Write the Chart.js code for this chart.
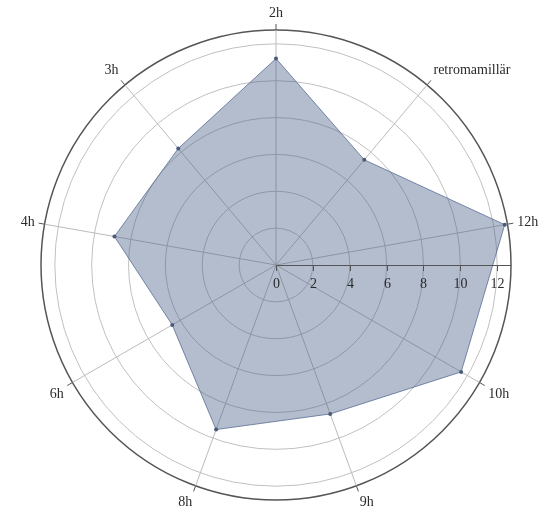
<!DOCTYPE html>
<html>
<head>
<meta charset="utf-8">
<script src="https://cdn.jsdelivr.net/npm/chart.js@4.4.1/dist/chart.umd.min.js"></script>
<style>
  body { margin: 0; background: #fff; }
  #wrap { width: 550px; height: 524px; }
</style>
</head>
<body>
<div id="wrap"><canvas id="radar" width="550" height="524"></canvas></div>
<script>
// categories, clockwise from the top
var categories = ['2h', 'retromamillär', '12h', '10h', '9h', '8h', '6h', '4h', '3h'];
var values = [11.2, 7.45, 12.6, 11.6, 8.6, 9.5, 6.5, 8.9, 8.25];
var radialTicks = [0, 2, 4, 6, 8, 10, 12];
var radialMax = 12.75;

var labelFont = '14px "Liberation Serif", "Times New Roman", serif';

// axis line + tick labels along the horizontal, angular ticks and labels
var polarAxes = {
    id: 'polarAxes',
    afterDatasetsDraw: function(chart) {
        var scale = chart.scales.r;
        var ctx = chart.ctx;
        var xc = scale.xCenter, yc = scale.yCenter;
        var R = scale.getDistanceFromCenterForValue(radialMax);
        ctx.save();
        ctx.strokeStyle = '#555';
        ctx.lineWidth = 1;
        ctx.fillStyle = '#2a2a2a';
        ctx.font = labelFont;

        // radial axis
        ctx.beginPath();
        ctx.moveTo(xc, yc + 0.5);
        ctx.lineTo(xc + R, yc + 0.5);
        ctx.stroke();
        ctx.textAlign = 'center';
        ctx.textBaseline = 'middle';
        radialTicks.forEach(function(v) {
            var x = Math.round(xc + scale.getDistanceFromCenterForValue(v)) + 0.5;
            ctx.beginPath();
            ctx.moveTo(x, yc);
            ctx.lineTo(x, yc + 6);
            ctx.stroke();
            ctx.fillText(String(v), x, yc + 19);
        });

        // angular ticks and labels
        categories.forEach(function(lab, i) {
            var p1 = scale.getPointPosition(i, R);
            var p2 = scale.getPointPosition(i, R + 6);
            ctx.beginPath();
            ctx.moveTo(p1.x, p1.y);
            ctx.lineTo(p2.x, p2.y);
            ctx.stroke();
            var p = scale.getPointPosition(i, R + 10);
            var c = Math.cos(p.angle), s = -Math.sin(p.angle);
            ctx.textAlign = c > 0.3 ? 'left' : (c < -0.3 ? 'right' : 'center');
            ctx.textBaseline = s > 0.3 ? 'bottom' : (s < -0.3 ? 'top' : 'middle');
            ctx.fillText(lab, p.x, p.y);
        });
        ctx.restore();
    }
};

var ctx = document.getElementById('radar').getContext('2d');
var chart = new Chart(ctx, {
    type: 'radar',
    data: {
        labels: categories,
        datasets: [{
            data: values,
            backgroundColor: 'rgba(68, 90, 130, 0.4)',
            borderColor: 'rgba(90, 110, 150, 0.8)',
            borderWidth: 1,
            pointRadius: 2,
            pointBackgroundColor: '#4a5a78',
            pointBorderWidth: 0
        }]
    },
    options: {
        responsive: false,
        devicePixelRatio: 1,
        animation: false,
        layout: { padding: { left: 41, right: 39, top: 30, bottom: 24 } },
        plugins: { legend: { display: false }, tooltip: { enabled: false } },
        elements: { line: { tension: 0 } },
        scales: {
            r: {
                min: 0,
                max: radialMax,
                ticks: { display: false, stepSize: 2 },
                pointLabels: { display: false },
                grid: {
                    circular: true,
                    color: function(c) { return c.tick && c.tick.value >= radialMax ? '#555' : '#c0c0c0'; },
                    lineWidth: function(c) { return c.tick && c.tick.value >= radialMax ? 1.5 : 1; }
                },
                angleLines: { color: '#bbbbbb', lineWidth: 1 }
            }
        }
    },
    plugins: [polarAxes]
});
</script>
</body>
</html>
